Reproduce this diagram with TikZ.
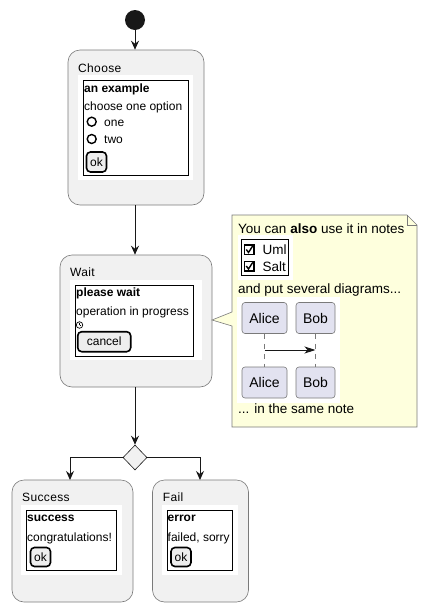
\documentclass[tikz,border=0pt]{standalone}
\usepackage{fontspec}
\setmainfont{Liberation Sans}
\usetikzlibrary{arrows.meta,shapes.geometric}
\definecolor{actfill}{HTML}{F1F1F1}
\definecolor{ln}{HTML}{181818}
\definecolor{bd}{HTML}{7A7A7A}
\definecolor{notefill}{HTML}{FEFFDD}
\definecolor{partfill}{HTML}{E2E2F0}
\definecolor{btnfill}{HTML}{EEEEEE}
\begin{document}
\begin{tikzpicture}[x=1pt,y=-1pt,
  font=\fontsize{12}{14}\selectfont,
  actbox/.style={draw=bd, line width=0.6pt, fill=actfill, rounded corners=12pt},
  saltframe/.style={draw=black, line width=1pt},
  btn/.style={draw=black, line width=1.6pt, fill=btnfill, rounded corners=4pt, inner sep=0pt},
  txt/.style={anchor=base west, inner sep=0pt},
  title/.style={txt, font=\fontsize{12}{14}\selectfont\addfontfeature{LetterSpace=3}},
  notetxt/.style={txt, font=\fontsize{13.5}{16}\selectfont},
  flow/.style={draw=ln, line width=1pt, -{Stealth[length=9pt,width=8pt,inset=3pt]}},
  part/.style={draw=bd, line width=0.6pt, fill=partfill, rounded corners=3pt, inner sep=0pt, minimum width=45pt, minimum height=31pt, font=\fontsize{14}{16}\selectfont},
  radio/.style={circle, draw=black, line width=1.4pt, inner sep=0pt, minimum size=9pt},
  chk/.style={draw=black, line width=1.5pt, inner sep=0pt, minimum size=9.5pt}
]
\useasboundingbox (0,0) rectangle (427,611);
% start
\node[circle, fill=ln, inner sep=0pt, minimum size=20pt] (start) at (135,20) {};
% Choose
\node[actbox, minimum width=136pt, minimum height=155pt, inner sep=0pt] (choose) at (136,127.5) {};
\fill[white] (78,75) rectangle (193,180);
\draw[saltframe] (83.5,80.5) rectangle (188,175);
\node[title] (chooseT) at (78,72) {Choose};
\node[txt] (ex) at (84,92.7) {\textbf{an example}};
\node[txt] (opt) at (84,110) {choose one option};
\node[radio] (r1) at (91.7,121.7) {};
\node[txt] (one) at (104,126.7) {one};
\node[radio] (r2) at (91.7,139) {};
\node[txt] (two) at (104,143.3) {two};
\node[btn, minimum width=20pt, minimum height=20pt] (ok1) at (96.5,162) {ok};
% Wait
\node[actbox, minimum width=152pt, minimum height=132pt, inner sep=0pt] (wait) at (136,321) {};
\fill[white] (70,280) rectangle (202,360);
\draw[saltframe] (75.5,285.5) rectangle (193,356);
\node[title] (waitT) at (70,276.7) {Wait};
\node[txt] (pw) at (76,296.7) {\textbf{please wait}};
\node[txt] (oip) at (76,315) {operation in progress};
\node[circle, draw=black, line width=0.7pt, inner sep=0pt, minimum size=6.5pt] (clock) at (79.5,325) {};
\draw[black, line width=0.6pt] (clock.center) -- ++(0,-2.2) (clock.center) -- ++(1.6,0);
\node[btn, minimum width=53pt, minimum height=20pt] (cancel) at (104.2,341.7) {cancel};
% Note
\fill[notefill, draw=bd, line width=0.6pt] (232,215) -- (407,215) -- (417,225) -- (417,427) -- (232,427) -- (232,326) -- (212,320) -- (232,312) -- cycle;
\draw[bd, line width=0.6pt] (407,215) -- (407,225) -- (417,225);
\coordinate (noteTip) at (212,320);
\node[notetxt] (n1) at (238,233.3) {You can \textbf{also} use it in notes};
\fill[white] (238,235) rectangle (293,280);
\draw[saltframe] (241.5,239) rectangle (288.5,275.5);
\node[chk] (c1) at (249,249.5) {};
\draw[black, line width=1.4pt] (246.3,249.5) -- (248.5,252.5) -- (252.8,245.8);
\node[txt, font=\fontsize{13.5}{16}\selectfont] (uml) at (262.5,254.5) {Uml};
\node[chk] (c2) at (249,266) {};
\draw[black, line width=1.4pt] (246.3,266) -- (248.5,269) -- (252.8,262.3);
\node[txt, font=\fontsize{13.5}{16}\selectfont] (salt) at (262.5,271) {Salt};
\node[notetxt] (n2) at (238,293.3) {and put several diagrams...};
\fill[white] (237,297) rectangle (340,403);
\node[part] (a1) at (264.5,318) {Alice};
\node[part, minimum width=39pt] (b1) at (315.5,318) {Bob};
\node[part] (a2) at (264.5,382.5) {Alice};
\node[part, minimum width=39pt] (b2) at (315.5,382.5) {Bob};
\draw[bd, line width=0.6pt, dash pattern=on 5pt off 5pt] (a1) -- (a2);
\draw[bd, line width=0.6pt, dash pattern=on 5pt off 5pt] (b1) -- (b2);
\coordinate (m1) at (264.5,350);
\coordinate (m2) at (315.5,350);
\draw[draw=ln, line width=1pt, -{Stealth[length=11pt,width=7pt,inset=3pt]}] (m1) -- (m2);
\node[notetxt] (n3) at (238,413) {... in the same note};
% diamond
\node[diamond, draw=ln, line width=0.6pt, fill=actfill, inner sep=0pt, minimum width=24pt, minimum height=25pt] (dec) at (135,457.5) {};
% Success
\node[actbox, minimum width=121pt, minimum height=122pt, inner sep=0pt] (succ) at (72.5,541) {};
\fill[white] (21,505) rectangle (122.3,575);
\draw[saltframe] (26.5,510.5) rectangle (116.7,570);
\node[title] (succT) at (22,501.7) {Success};
\node[txt] (s1) at (27,521.7) {\textbf{success}};
\node[txt] (s2) at (27,541.7) {congratulations!};
\node[btn, minimum width=20pt, minimum height=19pt] (ok2) at (40.5,557) {ok};
% Fail
\node[actbox, minimum width=96pt, minimum height=122pt, inner sep=0pt] (fail) at (200.5,541) {};
\fill[white] (161.7,505) rectangle (237.7,575);
\draw[saltframe] (167,510.5) rectangle (232.3,570);
\node[title] (failT) at (162.7,501.7) {Fail};
\node[txt] (f1) at (167.5,521.7) {\textbf{error}};
\node[txt] (f2) at (167.5,541.7) {failed, sorry};
\node[btn, minimum width=20pt, minimum height=19pt] (ok3) at (181,557) {ok};
% flows
\draw[flow] (start) -- (choose.north -| start);
\draw[flow] (choose.south -| start) -- (wait.north -| start);
\draw[flow] (wait.south -| start) -- (dec.north);
\draw[flow] (dec.west) -| (70,480);
\draw[flow] (dec.east) -| (200,480);
\end{tikzpicture}
\end{document}
